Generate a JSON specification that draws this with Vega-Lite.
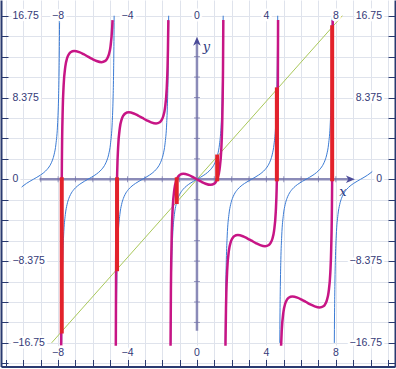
{
 "$schema": "https://vega.github.io/schema/vega-lite/v6.json",
 "width": 396, "height": 369,
 "autosize": {"type": "fit", "contains": "padding"},
 "padding": {"left": 0, "top": 0, "right": 0, "bottom": 1.5},
 "background": "white",
 "config": {"view": {"stroke": null}},
 "datasets": {
  "green": [{"x": -8.375, "y": -16.75}, {"x": 8.375, "y": 16.75}],
  "axl": [{"x": -9.07, "y": 0, "x2": 8.84, "y2": 0}, {"x": 0, "y": -15.5, "x2": 0, "y2": 14.14}],
  "arrows": [{"x": 8.84, "y": 0, "d": "r"}, {"x": 0, "y": 14.14, "d": "u"}],
  "xt": [{"x": -9, "y": 0}, {"x": -8, "y": 0}, {"x": -7, "y": 0}, {"x": -6, "y": 0}, {"x": -5, "y": 0}, {"x": -4, "y": 0}, {"x": -3, "y": 0}, {"x": -2, "y": 0}, {"x": -1, "y": 0}, {"x": 1, "y": 0}, {"x": 2, "y": 0}, {"x": 3, "y": 0}, {"x": 4, "y": 0}, {"x": 5, "y": 0}, {"x": 6, "y": 0}, {"x": 7, "y": 0}, {"x": 8, "y": 0}],
  "yt": [{"x": 0, "y": -14.65625}, {"x": 0, "y": -12.5625}, {"x": 0, "y": -10.46875}, {"x": 0, "y": -8.375}, {"x": 0, "y": -6.28125}, {"x": 0, "y": -4.1875}, {"x": 0, "y": -2.09375}, {"x": 0, "y": 2.09375}, {"x": 0, "y": 4.1875}, {"x": 0, "y": 6.28125}, {"x": 0, "y": 8.375}, {"x": 0, "y": 10.46875}, {"x": 0, "y": 12.5625}],
  "blue": [
   {"b": 0, "x": -10.1, "y": -0.801}, {"b": 0, "x": -10.025, "y": -0.684}, {"b": 0, "x": -9.825, "y": -0.423}, {"b": 0, "x": -9.625, "y": -0.203}, {"b": 0, "x": -9.425, "y": 0}, {"b": 0, "x": -9.225, "y": 0.203}, {"b": 0, "x": -9.025, "y": 0.423}, {"b": 0, "x": -8.825, "y": 0.684}, {"b": 0, "x": -8.625, "y": 1.03}, {"b": 0, "x": -8.425, "y": 1.557}, {"b": 0, "x": -8.325, "y": 1.965}, {"b": 0, "x": -8.225, "y": 2.572}, {"b": 0, "x": -8.125, "y": 3.602}, {"b": 0, "x": -8.025, "y": 5.798}, {"b": 0, "x": -7.975, "y": 8.238}, {"b": 0, "x": -7.945, "y": 10.983}, {"b": 0, "x": -7.925, "y": 14.101}, {"b": 0, "x": -7.914, "y": 16.75},
   {"b": 1, "x": -7.794, "y": -16.75}, {"b": 1, "x": -7.783, "y": -14.101}, {"b": 1, "x": -7.763, "y": -10.983}, {"b": 1, "x": -7.733, "y": -8.238}, {"b": 1, "x": -7.683, "y": -5.798}, {"b": 1, "x": -7.583, "y": -3.602}, {"b": 1, "x": -7.483, "y": -2.572}, {"b": 1, "x": -7.383, "y": -1.965}, {"b": 1, "x": -7.283, "y": -1.557}, {"b": 1, "x": -7.083, "y": -1.03}, {"b": 1, "x": -6.883, "y": -0.684}, {"b": 1, "x": -6.683, "y": -0.423}, {"b": 1, "x": -6.483, "y": -0.203}, {"b": 1, "x": -6.283, "y": 0}, {"b": 1, "x": -6.083, "y": 0.203}, {"b": 1, "x": -5.883, "y": 0.423}, {"b": 1, "x": -5.683, "y": 0.684}, {"b": 1, "x": -5.483, "y": 1.03}, {"b": 1, "x": -5.283, "y": 1.557}, {"b": 1, "x": -5.183, "y": 1.965}, {"b": 1, "x": -5.083, "y": 2.572}, {"b": 1, "x": -4.983, "y": 3.602}, {"b": 1, "x": -4.883, "y": 5.798}, {"b": 1, "x": -4.833, "y": 8.238}, {"b": 1, "x": -4.803, "y": 10.983}, {"b": 1, "x": -4.783, "y": 14.101}, {"b": 1, "x": -4.772, "y": 16.75},
   {"b": 2, "x": -4.653, "y": -16.75}, {"b": 2, "x": -4.642, "y": -14.101}, {"b": 2, "x": -4.622, "y": -10.983}, {"b": 2, "x": -4.592, "y": -8.238}, {"b": 2, "x": -4.542, "y": -5.798}, {"b": 2, "x": -4.442, "y": -3.602}, {"b": 2, "x": -4.342, "y": -2.572}, {"b": 2, "x": -4.242, "y": -1.965}, {"b": 2, "x": -4.142, "y": -1.557}, {"b": 2, "x": -3.942, "y": -1.03}, {"b": 2, "x": -3.742, "y": -0.684}, {"b": 2, "x": -3.542, "y": -0.423}, {"b": 2, "x": -3.342, "y": -0.203}, {"b": 2, "x": -3.142, "y": 0}, {"b": 2, "x": -2.942, "y": 0.203}, {"b": 2, "x": -2.742, "y": 0.423}, {"b": 2, "x": -2.542, "y": 0.684}, {"b": 2, "x": -2.342, "y": 1.03}, {"b": 2, "x": -2.142, "y": 1.557}, {"b": 2, "x": -2.042, "y": 1.965}, {"b": 2, "x": -1.942, "y": 2.572}, {"b": 2, "x": -1.842, "y": 3.602}, {"b": 2, "x": -1.742, "y": 5.798}, {"b": 2, "x": -1.692, "y": 8.238}, {"b": 2, "x": -1.662, "y": 10.983}, {"b": 2, "x": -1.642, "y": 14.101}, {"b": 2, "x": -1.63, "y": 16.75},
   {"b": 3, "x": -1.511, "y": -16.75}, {"b": 3, "x": -1.5, "y": -14.101}, {"b": 3, "x": -1.48, "y": -10.983}, {"b": 3, "x": -1.45, "y": -8.238}, {"b": 3, "x": -1.4, "y": -5.798}, {"b": 3, "x": -1.3, "y": -3.602}, {"b": 3, "x": -1.2, "y": -2.572}, {"b": 3, "x": -1.1, "y": -1.965}, {"b": 3, "x": -1.0, "y": -1.557}, {"b": 3, "x": -0.8, "y": -1.03}, {"b": 3, "x": -0.6, "y": -0.684}, {"b": 3, "x": -0.4, "y": -0.423}, {"b": 3, "x": -0.2, "y": -0.203}, {"b": 3, "x": 0, "y": 0}, {"b": 3, "x": 0.2, "y": 0.203}, {"b": 3, "x": 0.4, "y": 0.423}, {"b": 3, "x": 0.6, "y": 0.684}, {"b": 3, "x": 0.8, "y": 1.03}, {"b": 3, "x": 1.0, "y": 1.557}, {"b": 3, "x": 1.1, "y": 1.965}, {"b": 3, "x": 1.2, "y": 2.572}, {"b": 3, "x": 1.3, "y": 3.602}, {"b": 3, "x": 1.4, "y": 5.798}, {"b": 3, "x": 1.45, "y": 8.238}, {"b": 3, "x": 1.48, "y": 10.983}, {"b": 3, "x": 1.5, "y": 14.101}, {"b": 3, "x": 1.511, "y": 16.75},
   {"b": 4, "x": 1.63, "y": -16.75}, {"b": 4, "x": 1.642, "y": -14.101}, {"b": 4, "x": 1.662, "y": -10.983}, {"b": 4, "x": 1.692, "y": -8.238}, {"b": 4, "x": 1.742, "y": -5.798}, {"b": 4, "x": 1.842, "y": -3.602}, {"b": 4, "x": 1.942, "y": -2.572}, {"b": 4, "x": 2.042, "y": -1.965}, {"b": 4, "x": 2.142, "y": -1.557}, {"b": 4, "x": 2.342, "y": -1.03}, {"b": 4, "x": 2.542, "y": -0.684}, {"b": 4, "x": 2.742, "y": -0.423}, {"b": 4, "x": 2.942, "y": -0.203}, {"b": 4, "x": 3.142, "y": 0}, {"b": 4, "x": 3.342, "y": 0.203}, {"b": 4, "x": 3.542, "y": 0.423}, {"b": 4, "x": 3.742, "y": 0.684}, {"b": 4, "x": 3.942, "y": 1.03}, {"b": 4, "x": 4.142, "y": 1.557}, {"b": 4, "x": 4.242, "y": 1.965}, {"b": 4, "x": 4.342, "y": 2.572}, {"b": 4, "x": 4.442, "y": 3.602}, {"b": 4, "x": 4.542, "y": 5.798}, {"b": 4, "x": 4.592, "y": 8.238}, {"b": 4, "x": 4.622, "y": 10.983}, {"b": 4, "x": 4.642, "y": 14.101}, {"b": 4, "x": 4.653, "y": 16.75},
   {"b": 5, "x": 4.772, "y": -16.75}, {"b": 5, "x": 4.783, "y": -14.101}, {"b": 5, "x": 4.803, "y": -10.983}, {"b": 5, "x": 4.833, "y": -8.238}, {"b": 5, "x": 4.883, "y": -5.798}, {"b": 5, "x": 4.983, "y": -3.602}, {"b": 5, "x": 5.083, "y": -2.572}, {"b": 5, "x": 5.183, "y": -1.965}, {"b": 5, "x": 5.283, "y": -1.557}, {"b": 5, "x": 5.483, "y": -1.03}, {"b": 5, "x": 5.683, "y": -0.684}, {"b": 5, "x": 5.883, "y": -0.423}, {"b": 5, "x": 6.083, "y": -0.203}, {"b": 5, "x": 6.283, "y": 0}, {"b": 5, "x": 6.483, "y": 0.203}, {"b": 5, "x": 6.683, "y": 0.423}, {"b": 5, "x": 6.883, "y": 0.684}, {"b": 5, "x": 7.083, "y": 1.03}, {"b": 5, "x": 7.283, "y": 1.557}, {"b": 5, "x": 7.383, "y": 1.965}, {"b": 5, "x": 7.483, "y": 2.572}, {"b": 5, "x": 7.583, "y": 3.602}, {"b": 5, "x": 7.683, "y": 5.798}, {"b": 5, "x": 7.733, "y": 8.238}, {"b": 5, "x": 7.763, "y": 10.983}, {"b": 5, "x": 7.783, "y": 14.101}, {"b": 5, "x": 7.794, "y": 16.75},
   {"b": 6, "x": 7.914, "y": -16.75}, {"b": 6, "x": 7.925, "y": -14.101}, {"b": 6, "x": 7.945, "y": -10.983}, {"b": 6, "x": 7.975, "y": -8.238}, {"b": 6, "x": 8.025, "y": -5.798}, {"b": 6, "x": 8.125, "y": -3.602}, {"b": 6, "x": 8.225, "y": -2.572}, {"b": 6, "x": 8.325, "y": -1.965}, {"b": 6, "x": 8.425, "y": -1.557}, {"b": 6, "x": 8.625, "y": -1.03}, {"b": 6, "x": 8.825, "y": -0.684}, {"b": 6, "x": 9.025, "y": -0.423}, {"b": 6, "x": 9.225, "y": -0.203}, {"b": 6, "x": 9.425, "y": 0}, {"b": 6, "x": 9.625, "y": 0.203}, {"b": 6, "x": 9.825, "y": 0.423}, {"b": 6, "x": 10.025, "y": 0.684}, {"b": 6, "x": 10.1, "y": 0.801}
  ],
  "mag": [
   {"b": -2, "x": -7.823, "y": -17.04}, {"b": -2, "x": -7.803, "y": -4.063}, {"b": -2, "x": -7.783, "y": 1.465}, {"b": -2, "x": -7.733, "y": 7.228}, {"b": -2, "x": -7.683, "y": 9.568}, {"b": -2, "x": -7.583, "y": 11.564}, {"b": -2, "x": -7.483, "y": 12.394}, {"b": -2, "x": -7.383, "y": 12.801}, {"b": -2, "x": -7.283, "y": 13.009}, {"b": -2, "x": -7.069, "y": 13.137}, {"b": -2, "x": -6.783, "y": 13.02}, {"b": -2, "x": -6.533, "y": 12.811}, {"b": -2, "x": -6.283, "y": 12.566}, {"b": -2, "x": -6.033, "y": 12.322}, {"b": -2, "x": -5.783, "y": 12.113}, {"b": -2, "x": -5.498, "y": 11.996}, {"b": -2, "x": -5.283, "y": 12.124}, {"b": -2, "x": -5.183, "y": 12.331}, {"b": -2, "x": -5.083, "y": 12.739}, {"b": -2, "x": -4.983, "y": 13.568}, {"b": -2, "x": -4.883, "y": 15.564}, {"b": -2, "x": -4.863, "y": 16.3},
   {"b": -1, "x": -4.675, "y": -17.04}, {"b": -1, "x": -4.662, "y": -10.346}, {"b": -1, "x": -4.642, "y": -4.818}, {"b": -1, "x": -4.592, "y": 0.945}, {"b": -1, "x": -4.542, "y": 3.285}, {"b": -1, "x": -4.442, "y": 5.281}, {"b": -1, "x": -4.342, "y": 6.111}, {"b": -1, "x": -4.242, "y": 6.518}, {"b": -1, "x": -4.142, "y": 6.726}, {"b": -1, "x": -3.927, "y": 6.854}, {"b": -1, "x": -3.642, "y": 6.737}, {"b": -1, "x": -3.392, "y": 6.528}, {"b": -1, "x": -3.142, "y": 6.283}, {"b": -1, "x": -2.892, "y": 6.039}, {"b": -1, "x": -2.642, "y": 5.829}, {"b": -1, "x": -2.356, "y": 5.712}, {"b": -1, "x": -2.142, "y": 5.841}, {"b": -1, "x": -2.042, "y": 6.048}, {"b": -1, "x": -1.942, "y": 6.455}, {"b": -1, "x": -1.842, "y": 7.285}, {"b": -1, "x": -1.742, "y": 9.281}, {"b": -1, "x": -1.692, "y": 11.621}, {"b": -1, "x": -1.672, "y": 13.23}, {"b": -1, "x": -1.648, "y": 16.3},
   {"b": 0, "x": -1.521, "y": -17.04}, {"b": 0, "x": -1.5, "y": -11.101}, {"b": 0, "x": -1.48, "y": -8.023}, {"b": 0, "x": -1.45, "y": -5.338}, {"b": 0, "x": -1.4, "y": -2.998}, {"b": 0, "x": -1.3, "y": -1.002}, {"b": 0, "x": -1.2, "y": -0.172}, {"b": 0, "x": -1.1, "y": 0.235}, {"b": 0, "x": -1.0, "y": 0.443}, {"b": 0, "x": -0.785, "y": 0.571}, {"b": 0, "x": -0.5, "y": 0.454}, {"b": 0, "x": -0.25, "y": 0.245}, {"b": 0, "x": 0, "y": 0}, {"b": 0, "x": 0.25, "y": -0.245}, {"b": 0, "x": 0.5, "y": -0.454}, {"b": 0, "x": 0.785, "y": -0.571}, {"b": 0, "x": 1.0, "y": -0.443}, {"b": 0, "x": 1.1, "y": -0.235}, {"b": 0, "x": 1.2, "y": 0.172}, {"b": 0, "x": 1.3, "y": 1.002}, {"b": 0, "x": 1.4, "y": 2.998}, {"b": 0, "x": 1.45, "y": 5.338}, {"b": 0, "x": 1.48, "y": 8.023}, {"b": 0, "x": 1.5, "y": 11.101}, {"b": 0, "x": 1.519, "y": 16.3},
   {"b": 1, "x": 1.643, "y": -17.04}, {"b": 1, "x": 1.672, "y": -13.23}, {"b": 1, "x": 1.692, "y": -11.621}, {"b": 1, "x": 1.742, "y": -9.281}, {"b": 1, "x": 1.842, "y": -7.285}, {"b": 1, "x": 1.942, "y": -6.455}, {"b": 1, "x": 2.042, "y": -6.048}, {"b": 1, "x": 2.142, "y": -5.841}, {"b": 1, "x": 2.356, "y": -5.712}, {"b": 1, "x": 2.642, "y": -5.829}, {"b": 1, "x": 2.892, "y": -6.039}, {"b": 1, "x": 3.142, "y": -6.283}, {"b": 1, "x": 3.392, "y": -6.528}, {"b": 1, "x": 3.642, "y": -6.737}, {"b": 1, "x": 3.927, "y": -6.854}, {"b": 1, "x": 4.142, "y": -6.726}, {"b": 1, "x": 4.242, "y": -6.518}, {"b": 1, "x": 4.342, "y": -6.111}, {"b": 1, "x": 4.442, "y": -5.281}, {"b": 1, "x": 4.542, "y": -3.285}, {"b": 1, "x": 4.592, "y": -0.945}, {"b": 1, "x": 4.642, "y": 4.818}, {"b": 1, "x": 4.662, "y": 10.346}, {"b": 1, "x": 4.673, "y": 16.3},
   {"b": 2, "x": 4.848, "y": -17.04}, {"b": 2, "x": 4.883, "y": -15.564}, {"b": 2, "x": 4.983, "y": -13.568}, {"b": 2, "x": 5.083, "y": -12.739}, {"b": 2, "x": 5.183, "y": -12.331}, {"b": 2, "x": 5.283, "y": -12.124}, {"b": 2, "x": 5.498, "y": -11.996}, {"b": 2, "x": 5.783, "y": -12.113}, {"b": 2, "x": 6.033, "y": -12.322}, {"b": 2, "x": 6.283, "y": -12.566}, {"b": 2, "x": 6.533, "y": -12.811}, {"b": 2, "x": 6.783, "y": -13.02}, {"b": 2, "x": 7.069, "y": -13.137}, {"b": 2, "x": 7.283, "y": -13.009}, {"b": 2, "x": 7.383, "y": -12.801}, {"b": 2, "x": 7.483, "y": -12.394}, {"b": 2, "x": 7.583, "y": -11.564}, {"b": 2, "x": 7.683, "y": -9.568}, {"b": 2, "x": 7.733, "y": -7.228}, {"b": 2, "x": 7.783, "y": -1.465}, {"b": 2, "x": 7.803, "y": 4.063}, {"b": 2, "x": 7.823, "y": 16.3}
  ],
  "red": [{"x": -7.7899, "y": 0, "y2": -15.58}, {"x": -4.6042, "y": 0, "y2": -9.208}, {"x": -1.1656, "y": 0, "y2": -2.331}, {"x": 1.1656, "y": 0, "y2": 2.331}, {"x": 4.6042, "y": 0, "y2": 9.208}, {"x": 7.7899, "y": 0, "y2": 15.58}],
  "xlab": [{"x": -8, "y": 16.75, "t": "−8"}, {"x": -4, "y": 16.75, "t": "−4"}, {"x": 0, "y": 16.75, "t": "0"}, {"x": 4, "y": 16.75, "t": "4"}, {"x": 8, "y": 16.75, "t": "8"}, {"x": -8, "y": -17.79, "t": "−8"}, {"x": -4, "y": -17.79, "t": "−4"}, {"x": 0, "y": -17.79, "t": "0"}, {"x": 4, "y": -17.79, "t": "4"}, {"x": 8, "y": -17.79, "t": "8"}],
  "llab": [{"x": -10.63, "y": 16.75, "t": "16.75"}, {"x": -10.63, "y": 8.375, "t": "8.375"}, {"x": -10.63, "y": 0, "t": "0"}, {"x": -10.63, "y": -8.375, "t": "−8.375"}, {"x": -10.63, "y": -16.75, "t": "−16.75"}],
  "rlab": [{"x": 10.66, "y": 16.75, "t": "16.75"}, {"x": 10.66, "y": 8.375, "t": "8.375"}, {"x": 10.66, "y": 0, "t": "0"}, {"x": 10.66, "y": -8.375, "t": "−8.375"}, {"x": 10.66, "y": -16.75, "t": "−16.75"}],
  "names": [{"x": 8.41, "y": -1.28, "t": "x"}, {"x": 0.55, "y": 13.55, "t": "y"}]
 },
 "encoding": {
  "x": {"field": "x", "type": "quantitative", "scale": {"domain": [-11.29, 11.41], "nice": false, "zero": false}, "axis": null},
  "y": {"field": "y", "type": "quantitative", "scale": {"domain": [-19.17, 18.36], "nice": false, "zero": false}, "axis": null}
 },
 "layer": [
  {"data": {"name": "axl"}, "mark": {"type": "rule", "color": "#8b8bb8", "strokeWidth": 2.5},
   "encoding": {"x2": {"field": "x2"}, "y2": {"field": "y2"}}},
  {"data": {"name": "xt"}, "mark": {"type": "tick", "orient": "vertical", "color": "#6f6fa5", "size": 6, "thickness": 1}},
  {"data": {"name": "yt"}, "mark": {"type": "tick", "orient": "horizontal", "color": "#6f6fa5", "size": 6, "thickness": 1}},
  {"data": {"name": "green"}, "mark": {"type": "line", "color": "#a9c85a", "strokeWidth": 1},
   "encoding": {
    "x": {"field": "x", "type": "quantitative", "scale": {"domain": [-11.29, 11.41], "nice": false, "zero": false},
     "axis": {"orient": "bottom", "values": [-11, -10, -9, -8, -7, -6, -5, -4, -3, -2, -1, 0, 1, 2, 3, 4, 5, 6, 7, 8, 9, 10, 11], "grid": true, "gridColor": "#dfe3ec", "gridWidth": 1, "domain": true, "domainColor": "#2a3a70", "domainWidth": 2, "ticks": true, "tickSize": -7, "tickColor": "#2a3a70", "tickWidth": 1, "labels": false, "title": null}},
    "y": {"field": "y", "type": "quantitative", "scale": {"domain": [-19.17, 18.36], "nice": false, "zero": false},
     "axis": {"orient": "left", "values": [-18.84375, -16.75, -14.65625, -12.5625, -10.46875, -8.375, -6.28125, -4.1875, -2.09375, 0, 2.09375, 4.1875, 6.28125, 8.375, 10.46875, 12.5625, 14.65625, 16.75], "grid": true, "gridColor": "#dfe3ec", "gridWidth": 1, "domain": true, "domainColor": "#2a3a70", "domainWidth": 2, "ticks": true, "tickSize": -7, "tickColor": "#2a3a70", "tickWidth": 1, "labels": false, "title": null}}
   }},
  {"data": {"name": "blue"}, "mark": {"type": "line", "color": "#3b7bd4", "strokeWidth": 1, "interpolate": "monotone"},
   "encoding": {
    "detail": {"field": "b", "type": "nominal"},
    "y": {"field": "y", "type": "quantitative", "scale": {"domain": [-19.17, 18.36], "nice": false, "zero": false},
     "axis": {"orient": "right", "values": [-18.84375, -16.75, -14.65625, -12.5625, -10.46875, -8.375, -6.28125, -4.1875, -2.09375, 0, 2.09375, 4.1875, 6.28125, 8.375, 10.46875, 12.5625, 14.65625, 16.75], "grid": false, "domain": true, "domainColor": "#2a3a70", "domainWidth": 2, "ticks": true, "tickSize": -7, "tickColor": "#2a3a70", "tickWidth": 1, "labels": false, "title": null}}
   }},
  {"data": {"name": "mag"}, "mark": {"type": "line", "color": "#c71585", "strokeWidth": 2.5, "interpolate": "monotone"},
   "encoding": {"detail": {"field": "b", "type": "nominal"}}},
  {"data": {"name": "red"}, "mark": {"type": "rule", "color": "#e3222b", "strokeWidth": 4, "strokeCap": "square"},
   "encoding": {"y2": {"field": "y2"}}},
  {"data": {"name": "arrows"}, "mark": {"type": "point", "filled": true, "color": "#4b4b99", "size": 81, "opacity": 1},
   "encoding": {"shape": {"field": "d", "type": "nominal", "scale": {"domain": ["r", "u"], "range": ["M1,0L-1,-0.85L-0.45,0L-1,0.85Z", "M0,-1L0.85,1L0,0.45L-0.85,1Z"]}, "legend": null}}},
  {"data": {"name": "names"}, "mark": {"type": "text", "font": "DejaVu Serif", "fontStyle": "italic", "fontSize": 13, "color": "#2e3a80", "baseline": "middle", "align": "center"},
   "encoding": {"text": {"field": "t"}}},
  {"data": {"name": "xlab"}, "mark": {"type": "text", "font": "Liberation Sans", "fontSize": 10.5, "stroke": "white", "strokeWidth": 5, "strokeJoin": "round", "fill": "white", "baseline": "middle", "align": "center"},
   "encoding": {"text": {"field": "t"}}},
  {"data": {"name": "xlab"}, "mark": {"type": "text", "font": "Liberation Sans", "fontSize": 10.5, "color": "#343a78", "baseline": "middle", "align": "center"},
   "encoding": {"text": {"field": "t"}}},
  {"data": {"name": "llab"}, "mark": {"type": "text", "font": "Liberation Sans", "fontSize": 10.5, "stroke": "white", "strokeWidth": 5, "strokeJoin": "round", "fill": "white", "baseline": "middle", "align": "left"},
   "encoding": {"text": {"field": "t"}}},
  {"data": {"name": "llab"}, "mark": {"type": "text", "font": "Liberation Sans", "fontSize": 10.5, "color": "#343a78", "baseline": "middle", "align": "left"},
   "encoding": {"text": {"field": "t"}}},
  {"data": {"name": "rlab"}, "mark": {"type": "text", "font": "Liberation Sans", "fontSize": 10.5, "stroke": "white", "strokeWidth": 5, "strokeJoin": "round", "fill": "white", "baseline": "middle", "align": "right"},
   "encoding": {"text": {"field": "t"}}},
  {"data": {"name": "rlab"}, "mark": {"type": "text", "font": "Liberation Sans", "fontSize": 10.5, "color": "#343a78", "baseline": "middle", "align": "right"},
   "encoding": {"text": {"field": "t"}}}
 ],
 "resolve": {"axis": {"x": "independent", "y": "independent"}}
}
